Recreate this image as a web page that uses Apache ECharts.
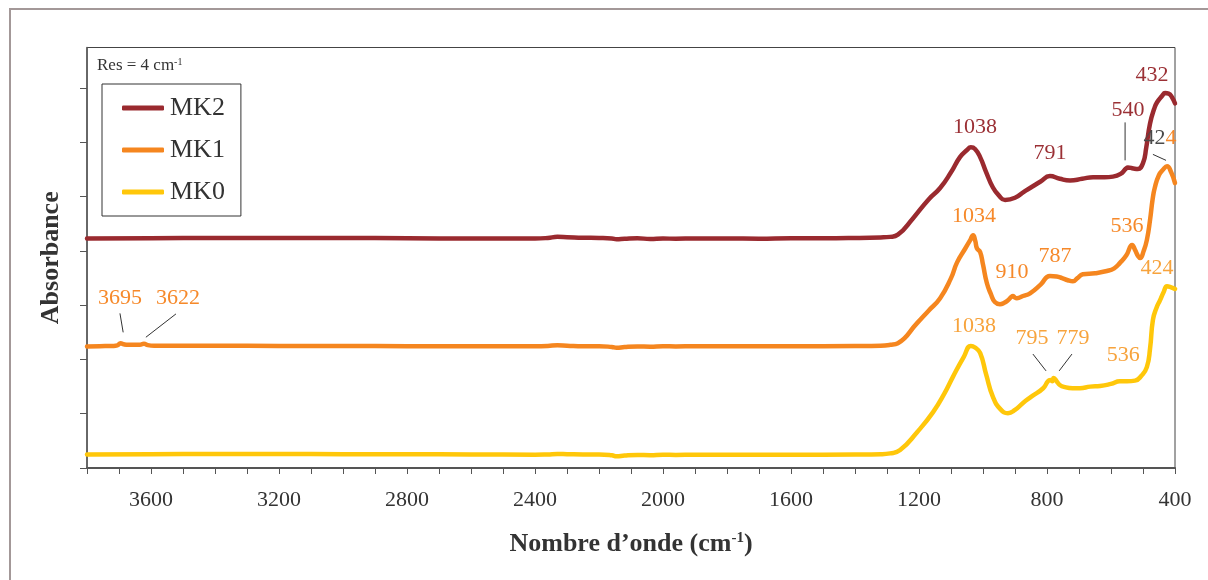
<!DOCTYPE html>
<html>
<head>
<meta charset="utf-8">
<script src="https://cdn.jsdelivr.net/npm/echarts@6/dist/echarts.min.js"></script>
<style>
html,body{margin:0;padding:0;background:#fff;}
#c{width:1208px;height:580px;}
</style>
</head>
<body>
<div id="c"></div>
<script>
// ---- data (wavenumber in cm-1, absorbance in arbitrary stacked units) ----
const seriesNames = ['MK2', 'MK1', 'MK0'];

const mk2Wn = [3800,3600,3400,3200,3000,2800,2600,2400,2360,2330,2300,2250,2200,2160,2145,2120,2080,2040,2000,1960,1900,1800,1700,1600,1500,1400,1320,1290,1266,1219,1170,1134,1100,1072,1050,1038,1025,1009,990,969,950,931,900,870,853,820,791,760,728,690,656,620,594,570,553,547,530,516,500,490,478,465,456,440,431,420,409,400];
const mk2Abs = [4.23,4.235,4.24,4.24,4.24,4.235,4.23,4.23,4.24,4.26,4.255,4.245,4.24,4.23,4.215,4.225,4.235,4.22,4.23,4.225,4.23,4.23,4.225,4.235,4.235,4.24,4.25,4.26,4.30,4.60,4.95,5.16,5.45,5.73,5.86,5.91,5.88,5.73,5.45,5.17,5.02,4.94,4.98,5.10,5.16,5.28,5.38,5.33,5.30,5.33,5.36,5.36,5.37,5.42,5.52,5.54,5.52,5.51,5.62,5.90,6.35,6.62,6.74,6.86,6.91,6.90,6.83,6.72];

const mk1Wn = [3800,3760,3720,3705,3695,3685,3670,3650,3635,3622,3610,3590,3500,3400,3200,3000,2800,2600,2400,2360,2330,2300,2250,2200,2160,2145,2120,2080,2040,2000,1960,1900,1800,1600,1400,1320,1290,1266,1206,1170,1134,1100,1081,1055,1040,1031,1024,1019,1009,1000,988,975,963,947,935,922,912,906,900,894,875,853,820,791,770,753,735,719,705,688,650,613,590,572,552,534,525,515,509,498,488,478,470,463,450,437,425,412,400];
const mk1Abs = [2.24,2.245,2.25,2.26,2.30,2.28,2.27,2.27,2.27,2.29,2.265,2.255,2.255,2.255,2.25,2.25,2.245,2.245,2.245,2.25,2.262,2.255,2.245,2.245,2.23,2.215,2.23,2.24,2.235,2.245,2.24,2.245,2.245,2.245,2.25,2.255,2.27,2.30,2.67,2.90,3.13,3.50,3.79,4.05,4.20,4.29,4.18,4.05,3.98,3.75,3.41,3.20,3.06,3.02,3.04,3.09,3.15,3.17,3.14,3.13,3.17,3.22,3.38,3.54,3.53,3.50,3.46,3.44,3.50,3.57,3.59,3.63,3.68,3.78,3.92,4.11,4.02,3.90,3.87,4.00,4.20,4.57,4.95,5.17,5.40,5.50,5.56,5.45,5.25];

const mk0Wn = [3800,3600,3400,3200,3000,2800,2600,2400,2360,2330,2300,2250,2200,2160,2145,2120,2080,2040,2000,1960,1900,1800,1600,1400,1320,1290,1259,1206,1156,1120,1094,1060,1038,1025,1009,990,969,945,922,900,875,850,812,797,790,784,779,770,760,744,720,697,665,634,600,572,550,525,505,488,478,469,458,447,435,425,412,400];
const mk0Abs = [0.25,0.255,0.26,0.26,0.255,0.255,0.25,0.245,0.25,0.258,0.255,0.25,0.25,0.235,0.215,0.23,0.24,0.235,0.245,0.24,0.245,0.245,0.245,0.25,0.255,0.27,0.33,0.66,1.03,1.38,1.68,2.05,2.25,2.22,2.12,1.72,1.31,1.08,1.01,1.07,1.20,1.31,1.47,1.60,1.62,1.60,1.66,1.60,1.53,1.49,1.47,1.47,1.50,1.51,1.55,1.60,1.60,1.61,1.70,1.86,2.20,2.73,2.95,3.09,3.25,3.35,3.33,3.30];

const xTickValues = [];
for (let v = 400; v <= 3800; v += 100) xTickValues.push(v);
const xLabelValues = [400,800,1200,1600,2000,2400,2800,3200,3600];
const yTickValues = [0,1,2,3,4,5,6,7];

// peak labels: [text, wavenumber, absorbance position]
const peakLabelsMK2 = [['1038',1025,6.28],['791',791,5.80],['540',547,6.59],['432',472,7.24]];
const peakLabelsMK1 = [['1034',1028,4.64],['910',909,3.61],['787',775,3.90],['536',550,4.46],['3695',3697,3.13],['3622',3516,3.13]];
const peakLabelsMK0 = [['1038',1028,2.62],['795',847,2.39],['779',719,2.39],['536',562,2.08],['424',456,3.68]];
// leader lines: [[wn1,abs1],[wn2,abs2]]
const leaderLines = [
  [[556,6.37],[556,5.67]],
  [[469,5.78],[428,5.67]],
  [[3697,2.85],[3687,2.50]],
  [[3522,2.84],[3616,2.41]],
  [[844,2.10],[803,1.79]],
  [[722,2.10],[762,1.79]]
];

const colors = {MK2:'#9a2a2f', MK1:'#f5861f', MK0:'#ffc70a'};
const textColors = {MK2:'#9b3035', MK1:'#f6892a', MK0:'#f7a33c'};
const FONT = '"Liberation Serif", "Times New Roman", serif';

function pairs(wn, ab){ return wn.map((w,i)=>[w, ab[i]]); }

const chart = echarts.init(document.getElementById('c'), null, {renderer:'canvas'});

const option = {
  animation: false,
  backgroundColor: '#fff',
  textStyle: {fontFamily: FONT},
  grid: {left: 87, right: 33, top: 47.5, bottom: 112, show: true, borderColor: '#444', borderWidth: 1, backgroundColor: 'transparent'},
  legend: {
    data: seriesNames,
    orient: 'vertical',
    left: 102, top: 84,
    padding: [11, 16, 11, 20],
    itemGap: 16,
    itemWidth: 42, itemHeight: 5,
    icon: 'roundRect',
    borderColor: '#333', borderWidth: 1,
    backgroundColor: '#fff',
    textStyle: {fontFamily: FONT, fontSize: 26, color: '#333', lineHeight: 26, padding: [0,0,0,1]}
  },
  xAxis: {
    type: 'value',
    min: 400, max: 3800,
    inverse: true,
    name: '{n|Nombre d\u2019onde (cm}{s|-1}{n|)}',
    nameLocation: 'middle',
    nameGap: 63,
    nameTextStyle: {
      rich: {
        n: {fontFamily: FONT, fontSize: 26, fontWeight: 'bold', color: '#333'},
        s: {fontFamily: FONT, fontSize: 15, fontWeight: 'bold', color: '#333', verticalAlign: 'top', padding: [0,0,12,0]}
      }
    },
    axisLine: {show: true, lineStyle: {color: '#555', width: 2}},
    axisTick: {show: true, length: 6, inside: false, customValues: xTickValues, lineStyle: {color: '#555', width: 1}},
    axisLabel: {show: true, customValues: xLabelValues, formatter: v => String(v), fontFamily: FONT, fontSize: 22, color: '#333', margin: 21},
    splitLine: {show: false}
  },
  yAxis: {
    type: 'value',
    min: 0, max: 7.75,
    name: 'Absorbance',
    nameLocation: 'middle',
    nameGap: 23,
    nameTextStyle: {fontFamily: FONT, fontSize: 26, fontWeight: 'bold', color: '#333'},
    axisLine: {show: true, lineStyle: {color: '#555', width: 1.5}},
    axisTick: {show: true, length: 7, inside: false, customValues: yTickValues, lineStyle: {color: '#555', width: 1}},
    axisLabel: {show: false},
    splitLine: {show: false}
  },
  series: [
    {name: 'MK2', data: pairs(mk2Wn, mk2Abs)},
    {name: 'MK1', data: pairs(mk1Wn, mk1Abs)},
    {name: 'MK0', data: pairs(mk0Wn, mk0Abs)}
  ].map(s => ({
    name: s.name, type: 'line', data: s.data, showSymbol: false, symbol: 'none',
    smooth: 0.5,
    color: colors[s.name],
    lineStyle: {color: colors[s.name], width: 4.5, cap: 'round', join: 'round'},
    z: 3
  }))
};

chart.setOption(option);

function toPx(p){ return chart.convertToPixel({gridIndex: 0}, p); }

const graphics = [];
// outer frame (left and top edges visible)
graphics.push({type: 'rect', shape: {x: 10, y: 9, width: 1260, height: 640}, style: {fill: 'none', stroke: '#a39898', lineWidth: 2}, z: 0, silent: true});
// resolution note
graphics.push({type: 'text', x: 97, y: 66, style: {
  text: '{a|Res = 4 cm}{b|-1}', verticalAlign: 'middle', align: 'left',
  rich: {
    a: {fontFamily: FONT, fontSize: 17, fill: '#333'},
    b: {fontFamily: FONT, fontSize: 10, fill: '#333', verticalAlign: 'top', padding: [0,0,8,0]}
  }
}, z: 10});

function addLabels(list, key){
  list.forEach(([t, w, a]) => {
    const p = toPx([w, a]);
    graphics.push({type: 'text', x: p[0], y: p[1], style: {
      text: t, fontFamily: FONT, fontSize: 22, fill: textColors[key], align: 'center', verticalAlign: 'middle'
    }, z: 10});
  });
}
addLabels(peakLabelsMK2, 'MK2');
addLabels(peakLabelsMK1, 'MK1');
addLabels(peakLabelsMK0, 'MK0');
// MK1 "424" label near the top right (drawn partly in grey as in the figure)
(function(){
  const p = toPx([447, 6.08]);
  graphics.push({type: 'text', x: p[0], y: p[1], style: {
    text: '{g|42}{o|4}', align: 'center', verticalAlign: 'middle',
    rich: {
      g: {fontFamily: FONT, fontSize: 22, fill: '#4a4a4a'},
      o: {fontFamily: FONT, fontSize: 22, fill: textColors.MK1}
    }
  }, z: 10});
})();
leaderLines.forEach(([a, b]) => {
  const p1 = toPx(a), p2 = toPx(b);
  graphics.push({type: 'line', shape: {x1: p1[0], y1: p1[1], x2: p2[0], y2: p2[1]}, style: {stroke: '#333', lineWidth: 1}, z: 10});
});

chart.setOption({graphic: graphics});
</script>
</body>
</html>
